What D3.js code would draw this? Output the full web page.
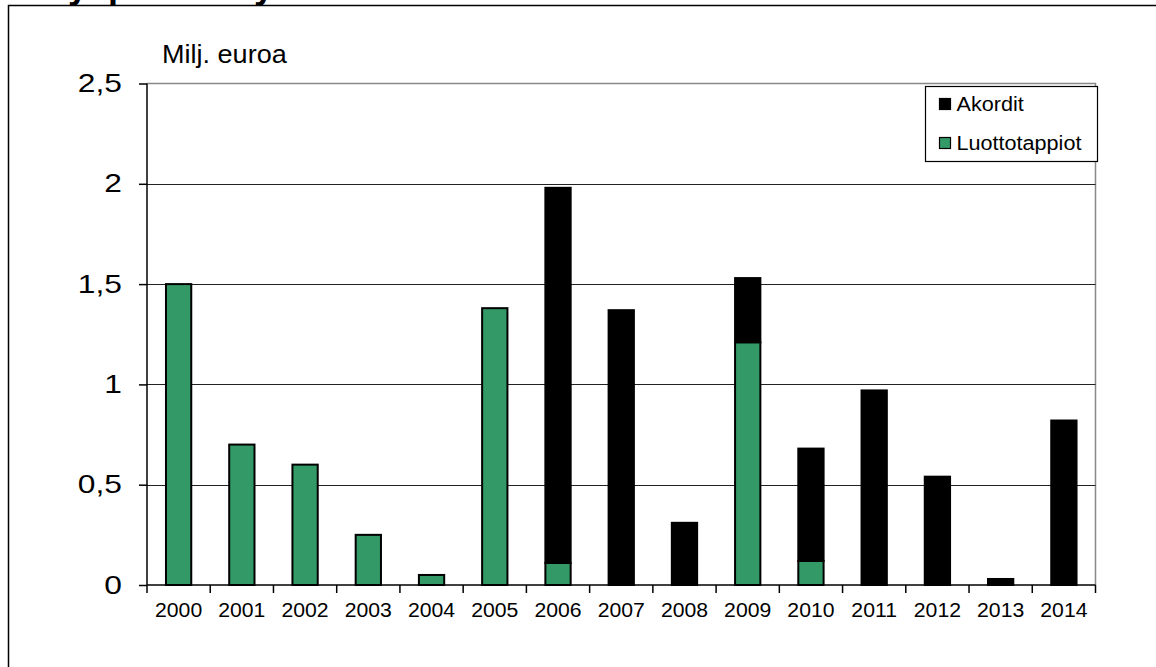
<!DOCTYPE html>
<html>
<head>
<meta charset="utf-8">
<script src="https://cdn.jsdelivr.net/npm/d3@7"></script>
<style>
  html, body { margin: 0; padding: 0; background: #fff; }
  svg { display: block; font-family: "Liberation Sans", Arial, sans-serif; }
</style>
</head>
<body>
<svg id="chart" width="1156" height="667"></svg>
<script>
// Years on the category axis
const years = ["2000","2001","2002","2003","2004","2005","2006","2007","2008","2009","2010","2011","2012","2013","2014"];
// Credit losses (million euro)
const luottotappiot = [1.50, 0.70, 0.60, 0.25, 0.05, 1.38, 0.11, 0, 0, 1.21, 0.12, 0, 0, 0, 0];
// Compositions / settlements (million euro), stacked on top
const akordit = [0, 0, 0, 0, 0, 0, 1.87, 1.37, 0.31, 0.32, 0.56, 0.97, 0.54, 0.03, 0.82];
// Value axis ticks
const yTicks = [0, 0.5, 1, 1.5, 2, 2.5];
const seriesNames = ["Akordit", "Luottotappiot"];
const seriesColors = { "Luottotappiot": "#339966", "Akordit": "#000000" };

const svg = d3.select("#chart");

// Widen a text element horizontally by a factor (wide sans look)
function widen(sel, factor) {
  sel.each(function() {
    const w = this.getComputedTextLength();
    d3.select(this).attr("textLength", w * factor).attr("lengthAdjust", "spacingAndGlyphs");
  });
}

// Title (runs off the top edge)
svg.append("text")
  .attr("x", 8).attr("y", -2)
  .attr("font-size", 36).attr("font-weight", "bold")
  .attr("fill", "#000")
  .text("Yrityspalvelut yhteensä");

// Outer frame
svg.append("rect")
  .attr("x", 8.5).attr("y", 5.5)
  .attr("width", 1200).attr("height", 700)
  .attr("fill", "none").attr("stroke", "#000").attr("stroke-width", 1.5);

const plot = { left: 147, right: 1095.5, top: 83.5, bottom: 585 };

const x = d3.scaleBand().domain(years).range([plot.left, plot.right]).paddingInner(0.6).paddingOuter(0.3);
const xBand = d3.scaleBand().domain(years).range([plot.left, plot.right]);
const y = d3.scaleLinear().domain([0, 2.5]).range([plot.bottom, plot.top]);

// Plot area border (top and right)
svg.append("path")
  .attr("d", `M${plot.left},${y(2.5)}H${plot.right}V${plot.bottom}`)
  .attr("fill", "none").attr("stroke", "#888").attr("stroke-width", 1.5);

// Gridlines
svg.append("g")
  .selectAll("line")
  .data(yTicks.filter(d => d > 0 && d < 2.5))
  .join("line")
  .attr("x1", plot.left).attr("x2", plot.right)
  .attr("y1", d => Math.round(y(d)) + 0.5).attr("y2", d => Math.round(y(d)) + 0.5)
  .attr("stroke", "#222").attr("stroke-width", 1.2);

// Stacked data
const rows = years.map((yr, i) => ({ year: yr, Luottotappiot: luottotappiot[i], Akordit: akordit[i] }));
const stack = d3.stack().keys(["Luottotappiot", "Akordit"]);
const layers = stack(rows);

const barG = svg.append("g");
layers.forEach(layer => {
  barG.selectAll(null)
    .data(layer.filter(d => d[1] - d[0] > 0))
    .join("rect")
    .attr("x", d => x(d.data.year))
    .attr("width", x.bandwidth())
    .attr("y", d => y(d[1]))
    .attr("height", d => y(d[0]) - y(d[1]))
    .attr("fill", seriesColors[layer.key])
    .attr("stroke", "#000")
    .attr("stroke-width", 2);
});

// Y axis
const yAxis = d3.axisLeft(y).tickValues(yTicks).tickSize(8).tickPadding(17)
  .tickFormat(d => String(d).replace(".", ","));
const gy = svg.append("g").attr("transform", `translate(${plot.left},0)`).call(yAxis);
gy.select(".domain").attr("stroke", "#000").attr("stroke-width", 1.5).attr("d", `M-0,${plot.top}V${plot.bottom}`);
gy.selectAll(".tick line").attr("stroke", "#000").attr("stroke-width", 1.5);
gy.selectAll(".tick text").attr("font-size", 25).attr("fill", "#000")
  .attr("font-family", "Liberation Sans, Arial, sans-serif")
  .call(widen, 1.27);

// X axis with ticks at category boundaries
const gx = svg.append("g").attr("transform", `translate(0,${plot.bottom})`);
gx.append("line").attr("x1", plot.left).attr("x2", plot.right).attr("y1", 0).attr("y2", 0)
  .attr("stroke", "#000").attr("stroke-width", 1.5);
const bounds = years.map(d => xBand(d)).concat([plot.right]);
gx.selectAll("line.tk").data(bounds).join("line").attr("class", "tk")
  .attr("x1", d => d).attr("x2", d => d).attr("y1", 0).attr("y2", 8)
  .attr("stroke", "#000").attr("stroke-width", 1.5);
gx.selectAll("text").data(years).join("text")
  .attr("x", d => xBand(d) + xBand.bandwidth() / 2)
  .attr("y", 32)
  .attr("text-anchor", "middle")
  .attr("font-size", 20)
  .attr("fill", "#000")
  .text(d => d)
  .call(widen, 1.06);

// Unit label
svg.append("text").attr("x", 162).attr("y", 63).attr("font-size", 26).attr("fill", "#000").text("Milj. euroa")
  .call(widen, 1.04);

// Legend
const lg = svg.append("g").attr("transform", "translate(925.5,86.5)");
lg.append("rect").attr("width", 172).attr("height", 75).attr("fill", "#fff").attr("stroke", "#000").attr("stroke-width", 1.2);
lg.selectAll("g.item").data(seriesNames).join("g").attr("class", "item")
  .attr("transform", (d, i) => `translate(14,${12 + i * 39})`)
  .each(function(d) {
    const g = d3.select(this);
    g.append("rect").attr("width", 11).attr("height", 11)
      .attr("fill", seriesColors[d]).attr("stroke", "#000").attr("stroke-width", 1.2);
    g.append("text").attr("x", 17).attr("y", 12).attr("font-size", 20).attr("fill", "#000").text(d)
      .call(widen, 1.08);
  });
</script>
</body>
</html>
